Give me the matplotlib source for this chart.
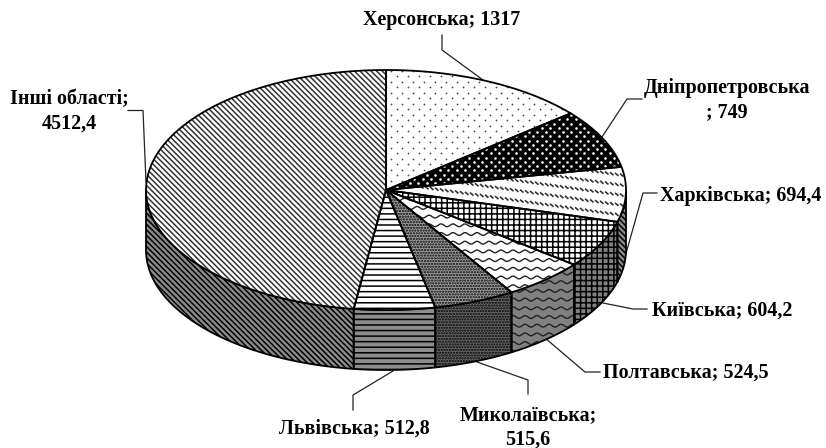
import numpy as np
import matplotlib
matplotlib.use('Agg')
import matplotlib.pyplot as plt
from matplotlib.patches import Polygon
from matplotlib.collections import LineCollection

plt.rcParams['font.family'] = ['Liberation Serif', 'DejaVu Serif']
plt.rcParams['hatch.linewidth'] = 1.1

regions = ['Херсонська', 'Дніпропетровська', 'Харківська', 'Київська',
           'Полтавська', 'Миколаївська', 'Львівська', 'Інші області']
values = [1317, 749, 694.4, 604.2, 524.5, 515.6, 512.8, 4512.4]
value_labels = ['1317', '749', '694,4', '604,2', '524,5', '515,6', '512,8', '4512,4']

# ellipse of the tilted pie, in pixels
cx, cy, rx, ry, depth = 386, 190, 240, 120, 60

diag = '\\' * 6
# top style: (face, hatch colour, hatch)
top_styles = [('white', '#444444', 'dots_small'), ('black', 'white', 'dots_big'), ('white', None, 'dash'),
              ('white', 'black', '+++'), ('white', None, 'wave'), ('#a0a0a0', 'black', '......'),
              ('white', 'black', '---'), ('white', '#333333', diag)]
wall_face = ['#808080', '#808080', '#8c8c8c', '#808080', '#808080', '#666666', '#8c8c8c', '#8c8c8c']
wall_hatch = ['', '', diag, '+++', 'wave', '......', '---', diag]


def arc(t0, t1, dy=0):
    t = np.radians(np.linspace(t0, t1, 80))
    return np.column_stack([cx + rx * np.sin(t), cy + dy - ry * np.cos(t)])


def add_extra(ax, patch, kind, col, x0, x1, y0, y1):
    z = patch.get_zorder()
    if kind == 'wave':
        xs = np.arange(x0, x1, 0.5)
        for y in np.arange(y0, y1, 8.7):
            ln, = ax.plot(xs, y + 1.4 * np.sin(xs * 2 * np.pi / 12), color='#222222', lw=1.0, zorder=z)
            ln.set_clip_path(patch)
    elif kind == 'dash':
        segs = []
        for y in np.arange(y0, y1, 10):
            for x in np.arange(x0, x1, 5):
                yy = y + (x - x0) * 0.14
                segs.append([(x, yy), (x + 3.5, yy + 3)])
        lc = LineCollection(segs, colors='#333333', linewidths=1.2, zorder=z)
        ax.add_collection(lc)
        lc.set_clip_path(patch)
    elif kind in ('dots_small', 'dots_big'):
        step, size = (11, 1.6) if kind == 'dots_small' else (8.5, 3.5)
        px, py = [], []
        for j, y in enumerate(np.arange(y0, y1, step / 2)):
            xs = np.arange(x0 + (j % 2) * step / 2, x1, step)
            px.extend(xs)
            py.extend([y] * len(xs))
        sc = ax.scatter(px, py, s=size, c=col, linewidths=0, zorder=z)
        sc.set_clip_path(patch)


def outline(ax, pts, z):
    ax.add_patch(Polygon(pts, closed=True, fill=False, edgecolor='black', lw=1.3, zorder=z, joinstyle='round'))


fig = plt.figure(figsize=(8.26, 4.48), dpi=100)
ax = fig.add_axes([0, 0, 1, 1])
ax.set_xlim(0, 826)
ax.set_ylim(448, 0)
ax.axis('off')

edges = np.cumsum([0] + values) / sum(values) * 360

# walls
for i in range(len(values)):
    t0, t1 = max(edges[i], 90), min(edges[i + 1], 270)
    if t1 <= t0:
        continue
    pts = np.vstack([arc(t0, t1), arc(t1, t0, depth)])
    hatch = wall_hatch[i]
    extra = hatch == 'wave'
    p = Polygon(pts, closed=True, facecolor=wall_face[i], edgecolor='black', lw=0,
                hatch=None if extra else hatch, zorder=2)
    ax.add_patch(p)
    if extra:
        add_extra(ax, p, hatch, 'black', 380, 640, 230, 390)
    outline(ax, pts, 3)

# top
for i in range(len(values)):
    pts = np.vstack([[(cx, cy)], arc(edges[i], edges[i + 1])])
    face, col, hatch = top_styles[i]
    extra = hatch in ('wave', 'dash', 'dots_small', 'dots_big')
    p = Polygon(pts, closed=True, facecolor=face, edgecolor=col if col else face, lw=0,
                hatch=None if extra else hatch, zorder=4)
    ax.add_patch(p)
    if extra:
        add_extra(ax, p, hatch, col, 380, 640, 60, 320)
    outline(ax, pts, 5)

# leader lines
leaders = [[(483, 80), (442, 50), (442, 35)],
           [(602, 137), (627, 99), (642, 99)],
           [(625, 257), (643, 193), (657, 193)],
           [(603, 303), (633, 309), (647, 309)],
           [(545, 338), (585, 372), (600, 372)],
           [(477, 362), (528, 380), (528, 394)],
           [(393, 371), (353, 395), (353, 410)],
           [(128, 110.5), (143, 110.5), (146, 182)]]
for pts in leaders:
    xs, ys = zip(*pts)
    ax.plot(xs, ys, color='#222222', lw=0.9, zorder=1)

style = dict(fontsize=14.4, fontweight='bold', color='black', va='center', zorder=6, linespacing=1.3)
ax.text(442, 20, f'{regions[0]}; {value_labels[0]}', ha='center', **style)
ax.text(727, 100, f'{regions[1]}\n; {value_labels[1]}', ha='center', **style)
ax.text(660, 196, f'{regions[2]}; {value_labels[2]}', ha='left', **style)
ax.text(652, 311, f'{regions[3]}; {value_labels[3]}', ha='left', **style)
ax.text(603, 373, f'{regions[4]}; {value_labels[4]}', ha='left', **style)
ax.text(528, 427, f'{regions[5]};\n{value_labels[5]}', ha='center', **style)
ax.text(354, 429, f'{regions[6]}; {value_labels[6]}', ha='center', **style)
ax.text(69, 111, f'{regions[7]};\n{value_labels[7]}', ha='center', **style)

fig.savefig('out.png', dpi=100, facecolor='white')
